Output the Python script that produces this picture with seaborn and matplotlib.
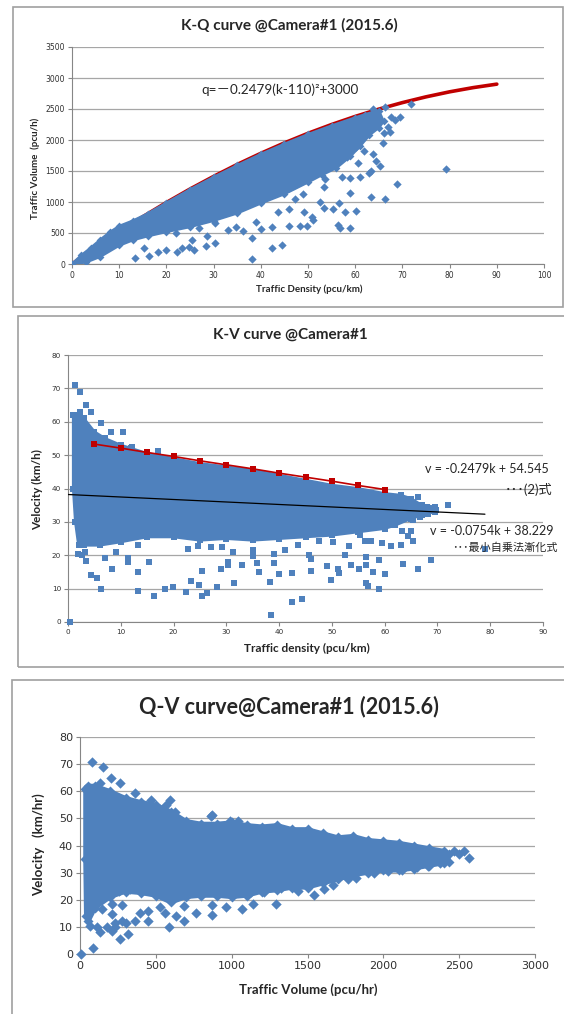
import matplotlib
matplotlib.use('Agg')
import matplotlib.pyplot as plt
import seaborn as sns
from matplotlib.patches import Rectangle

# ---------------- K-Q panel ----------------
# red fitted curve
kq_curve_k = [0, 5, 10, 15, 20, 25, 30, 35, 40, 45, 50, 55, 60, 65, 70, 75, 80, 85, 90]
kq_curve_q = [0, 267, 521, 763, 992, 1209, 1413, 1606, 1785, 1953, 2108, 2250, 2380,
              2498, 2603, 2696, 2777, 2845, 2901]
# outline of the dense point cloud (upper edge left->right, then lower edge right->left)
kq_cloud_k = [0, 2, 4, 6, 8, 10, 13, 16, 20, 25, 30, 35, 40, 45, 50, 55, 60, 62, 64, 65,
              66, 65, 63, 61, 59, 56, 53, 50, 45, 40, 35, 30, 25, 20, 16, 13, 10, 6, 3]
kq_cloud_q = [0, 140, 260, 390, 510, 610, 700, 810, 985, 1200, 1400, 1590, 1770, 1935, 2090,
              2230, 2360, 2410, 2455, 2470,
              2300, 2200, 2080, 1900, 1740, 1550, 1440, 1320, 1130, 980, 820, 700, 600, 520,
              450, 390, 300, 120, 30]
# scattered points outside the cloud
kq_out_k = [71.9, 79.2, 68.8, 66.3, 63.3, 58.9, 56.6, 60.1, 57.8, 58.8, 56.4, 56.8, 55.2, 53.4,
            52.5, 51.1, 50.8, 49.8, 48.4, 49.2, 45.9, 45.9, 43.7, 42.3, 40.0, 38.1, 39.0, 42.4,
            44.4, 38.2, 36.2, 34.8, 33.0, 30.2, 28.5, 28.4, 25.5, 25.8, 24.7, 23.2, 22.3, 19.9,
            18.2, 16.3, 13.3, 15.3, 22.1, 26.9, 30.4, 47.3, 49.0, 53.4, 53.7, 57.3, 59.0, 61.0,
            62.9, 65.3, 63.3, 64.4, 61.8, 63.7, 65.8, 66.0, 66.9, 67.6, 69.5, 68.4, 66.4, 63.8,
            67.3, 60.2, 58.3, 60.6]
kq_out_q = [2575, 1532, 1285, 1048, 1086, 1140, 978, 860, 839, 586, 629, 586, 882, 909,
            1000, 710, 763, 613, 608, 833, 882, 613, 839, 602, 559, 425, 672, 253,
            301, 86, 538, 597, 548, 344, 452, 296, 387, 226, 280, 263, 194, 226,
            188, 129, 102, 253, 495, 575, 661, 1043, 1134, 1247, 1376, 1408, 1387, 1408,
            1462, 1586, 1505, 1667, 1823, 1769, 1946, 2108, 2215, 2376, 2371, 2323, 2527, 2495,
            2134, 1892, 1731, 1624]

# ---------------- K-V panel ----------------
kv_cloud_k = [1, 2, 3, 5, 7, 10, 12, 15, 20, 25, 30, 35, 40, 45, 50, 55, 60, 63, 65, 67, 69.5,
              69.5, 67, 65, 62, 60, 55, 50, 45, 40, 35, 30, 25, 20, 15, 10, 6, 3, 2, 1.4, 1]
kv_cloud_v = [62, 62, 61, 57, 55, 53, 52, 50.5, 49, 47.5, 46.5, 45.5, 44, 42.5, 41, 40, 38.5,
              38, 37, 35, 34.5,
              33, 32, 31, 29, 28, 27, 26, 25.5, 25, 24.5, 25, 24.5, 25.5, 25.5, 24, 23, 23, 23,
              30, 40]
kv_out_k = [0.3, 1.3, 2.3, 3.4, 4.4, 2.3, 6.3, 8.2, 10.5, 17.1, 12.2, 72.0, 66.3, 68.0, 69.7,
            68.3, 66.7, 65.4, 61.8, 64.9, 63.3, 64.4, 65.4, 61.2, 63.1, 79.0, 68.8, 66.4, 63.4,
            60.0, 59.0, 59.0, 57.8, 56.9, 56.4, 56.5, 56.5, 55.2, 53.7, 52.4, 51.3, 51.2, 49.8,
            49.1, 46.0, 46.0, 45.6, 44.4, 42.4, 42.4, 40.0, 39.0, 38.2, 38.4, 36.2, 35.8, 35.0,
            33.0, 31.4, 30.4, 30.3, 28.9, 28.3, 26.3, 25.4, 25.4, 24.9, 23.3, 22.4, 19.9, 18.3,
            16.3, 15.4, 13.2, 13.2, 11.3, 11.3, 8.4, 6.3, 5.4, 4.4, 3.4, 7.1, 9.1, 13.2, 22.7,
            24.6, 27.1, 29.2, 31.2, 35.0, 39.0, 41.1, 43.5, 47.6, 50.3, 53.3, 56.3, 57.4, 59.5,
            55.4, 1.8, 2.6, 3.2]
kv_out_v = [0, 70.9, 69, 65, 63, 63, 59.5, 56.9, 57, 51.2, 52.4, 35, 37.4, 34.4, 33.7,
            32.5, 31.5, 30.7, 29.2, 27.4, 27.4, 25.7, 24.4, 22.7, 23.2, 21.9, 18.5, 16, 17.3,
            14.4, 18.7, 10, 15, 10.7, 11.6, 17.2, 19.4, 16, 17, 20.2, 14.7, 16, 12.7,
            16.9, 15.4, 18.9, 20, 7, 6, 14.6, 14.4, 17.7, 11.9, 2, 15, 17.7, 19.7,
            17, 11.6, 18, 17, 16, 10.6, 8.8, 15.2, 7.8, 11, 12.2, 8.9, 10.5, 9.9,
            7.8, 17.9, 15, 9.3, 19.2, 18, 16, 10, 13.2, 14.2, 18.2, 19.2, 21, 23.2, 22,
            22.9, 22.5, 22.4, 21, 21.7, 20.4, 21.7, 23.2, 24.2, 23.9, 22.7, 24.4, 24.2, 23.7,
            26, 20.5, 20, 21]
# red upper-limit points and black least-squares line
kv_red_k = [5, 10, 15, 20, 25, 30, 35, 40, 45, 50, 55, 60]
kv_red_v = [53.3, 52.1, 50.8, 49.6, 48.3, 47.1, 45.9, 44.6, 43.4, 42.2, 40.9, 39.7]
kv_fit_k = [0, 79]
kv_fit_v = [38.2, 32.3]

# ---------------- Q-V panel ----------------
qv_cloud_q = [35, 50, 100, 200, 300, 400, 500, 600, 700, 800, 900, 1000, 1100, 1200, 1300, 1400,
              1500, 1600, 1700, 1800, 1900, 2000, 2100, 2200, 2300, 2400, 2430,
              2430, 2400, 2300, 2200, 2100, 2000, 1900, 1800, 1700, 1600, 1500, 1400, 1300,
              1200, 1100, 1000, 900, 800, 700, 600, 500, 400, 300, 200, 100, 55, 40, 35]
qv_cloud_v = [61, 62, 62, 60, 57.5, 56, 55, 52.5, 49, 48, 48, 48.5, 47.5, 47, 47.5, 46,
              46, 44.5, 43, 43.5, 42, 41.5, 41, 40, 39, 38, 37,
              34, 33.5, 32.5, 31.5, 30.8, 30.8, 30, 29, 27.5, 26, 24.5, 24.5, 23.5,
              23, 21.5, 21, 21.5, 21.5, 21, 19, 21.5, 22.5, 23, 21, 17, 12, 14, 35]
qv_out_q = [7, 85, 81, 149, 202, 261, 130, 363, 467, 595, 626, 564, 873, 991, 1043, 2466,
            2533, 2568, 2497, 2371, 2295, 2224, 2122, 2030, 1940, 1821, 1767, 1667, 1608,
            1541, 1435, 1295, 1138, 1069, 963, 873, 873, 766, 683, 688, 636, 588, 560, 526,
            450, 450, 398, 363, 280, 304, 315, 261, 232, 209, 180, 133, 109, 66, 209, 209,
            142, 280, 228, 470, 410, 256, 327, 896, 1126, 1216, 1323, 861]
qv_out_v = [0, 2.1, 70.7, 68.9, 65, 62.9, 63.1, 59.4, 56.7, 56.7, 52.5, 55.1, 51.2, 49, 49, 38,
            38, 35.3, 36.8, 33.7, 32.5, 32.1, 31, 30.6, 29.8, 28.2, 27.6, 25.5, 24.1,
            21.8, 23.3, 18.6, 18.6, 16.5, 17.2, 14.3, 18, 15, 12.3, 17.8, 14.1, 9.8, 15, 17.2,
            12, 15.9, 15.1, 12, 18.1, 11.3, 7.4, 5.5, 11.6, 8.6, 9.8, 8, 9.8, 10.2, 18.4, 14.7,
            16.5, 12.3, 10, 24.5, 24.5, 23.3, 23.9, 23.5, 22.7, 22.7, 24.5, 50.9]

BLUE = '#4F81BD'
RED = '#C00000'
GRID = '#A6A6A6'
W, H = 564, 1014

sns.set_theme(style='white')
plt.rcParams['font.family'] = ['Lato', 'Noto Sans CJK JP', 'DejaVu Sans']

fig = plt.figure(figsize=(W / 100, H / 100), dpi=100)


def rect(l, t, r, b):
    return [l / W, 1 - b / H, (r - l) / W, (b - t) / H]


def ftext(x, y, s, **kw):
    fig.text(x / W, 1 - y / H, s, **kw)


def frame(l, t, r, b):
    fig.add_artist(Rectangle((l / W, 1 - b / H), (r - l) / W, (b - t) / H,
                             transform=fig.transFigure, fill=False, ec='#A0A0A0', lw=1.2))


def style(ax, size):
    sns.despine(ax=ax)
    for s in ['left', 'bottom']:
        ax.spines[s].set_color('#868686')
        ax.spines[s].set_linewidth(0.8)
    ax.grid(axis='y', color=GRID, lw=0.9)
    ax.grid(axis='x', visible=False)
    ax.set_axisbelow(True)
    ax.tick_params(direction='out', length=3, width=0.8, color='#868686', pad=2,
                   labelsize=size, labelcolor='#303030', left=True, bottom=True)
    for lab in ax.get_xticklabels() + ax.get_yticklabels():
        lab.set_family('DejaVu Sans')
    ax.set_xlabel('')
    ax.set_ylabel('')


# ---------- panel 1: K-Q ----------
frame(13, 7, 563, 307)
ax1 = fig.add_axes(rect(72, 47, 544, 264))
sns.lineplot(x=kq_curve_k, y=kq_curve_q, color=RED, lw=2.6, ax=ax1, zorder=2)
ax1.fill(kq_cloud_k, kq_cloud_q, color=BLUE, lw=2, zorder=3)
sns.scatterplot(x=kq_cloud_k, y=kq_cloud_q, marker='D', s=16, color=BLUE, linewidth=0,
                ax=ax1, zorder=3)
sns.scatterplot(x=kq_out_k, y=kq_out_q, marker='D', s=18, color=BLUE, linewidth=0,
                ax=ax1, zorder=4, clip_on=False)
ax1.set_xlim(0, 100)
ax1.set_ylim(0, 3500)
ax1.set_xticks(range(0, 101, 10))
ax1.set_yticks(range(0, 3501, 500))
style(ax1, 5.5)
ftext(289, 25, 'K-Q curve @Camera#1 (2015.6)', ha='center', va='center',
      fontsize=11, fontweight='bold')
ftext(201, 90, 'q=－0.2479(k-110)²+3000', ha='left', va='center', fontsize=9.7)
ftext(309, 289, 'Traffic Density (pcu/km)', ha='center', va='center',
      fontsize=7, fontweight='bold')
ftext(35, 168, 'Traffic Volume  (pcu/h)', ha='center', va='center', rotation=90,
      fontsize=7, fontweight='bold')

# ---------- panel 2: K-V ----------
frame(18, 316, 570, 667)
ax2 = fig.add_axes(rect(68, 355, 543, 622))
ax2.fill(kv_cloud_k, kv_cloud_v, color=BLUE, lw=2, zorder=2)
sns.scatterplot(x=kv_cloud_k, y=kv_cloud_v, marker='s', s=14, color=BLUE, linewidth=0,
                ax=ax2, zorder=2)
sns.scatterplot(x=kv_out_k, y=kv_out_v, marker='s', s=14, color=BLUE, linewidth=0,
                ax=ax2, zorder=3, clip_on=False)
sns.lineplot(x=kv_fit_k, y=kv_fit_v, color='black', lw=0.9, ax=ax2, zorder=4)
sns.lineplot(x=kv_red_k, y=kv_red_v, color=RED, lw=1.2, ax=ax2, zorder=5)
sns.scatterplot(x=kv_red_k, y=kv_red_v, marker='s', s=20, color=RED, linewidth=0,
                ax=ax2, zorder=6)
ax2.set_xlim(0, 90)
ax2.set_ylim(0, 80)
ax2.set_xticks(range(0, 91, 10))
ax2.set_yticks(range(0, 81, 10))
style(ax2, 5.2)
ftext(290, 335, 'K-V curve @Camera#1', ha='center', va='center',
      fontsize=11, fontweight='bold')
ftext(307, 648, 'Traffic density (pcu/km)', ha='center', va='center',
      fontsize=8.5, fontweight='bold')
ftext(38, 490, 'Velocity (km/h)', ha='center', va='center', rotation=90,
      fontsize=8.5, fontweight='bold')
ftext(549, 469, 'v = -0.2479k + 54.545', ha='right', va='center', fontsize=9, color='#262626')
ftext(553, 489, '･･･(2)式', ha='right', va='center', fontsize=9.5, color='#262626')
ftext(553, 531, 'v = -0.0754k + 38.229', ha='right', va='center', fontsize=9, color='#262626')
ftext(558, 547, '･･･最小自乗法漸化式', ha='right', va='center', fontsize=8, color='#262626')

# ---------- panel 3: Q-V ----------
frame(12, 680, 570, 1020)
ax3 = fig.add_axes(rect(80, 737, 535, 954))
ax3.fill(qv_cloud_q, qv_cloud_v, color=BLUE, lw=3, zorder=2)
sns.scatterplot(x=qv_cloud_q, y=qv_cloud_v, marker='D', s=26, color=BLUE, linewidth=0,
                ax=ax3, zorder=2)
sns.scatterplot(x=qv_out_q, y=qv_out_v, marker='D', s=28, color=BLUE, linewidth=0,
                ax=ax3, zorder=3, clip_on=False)
ax3.set_xlim(0, 3000)
ax3.set_ylim(0, 80)
ax3.set_xticks(range(0, 3001, 500))
ax3.set_yticks(range(0, 81, 10))
style(ax3, 8)
ftext(289, 707, 'Q-V curve@Camera#1 (2015.6)', ha='center', va='center',
      fontsize=15.5, fontweight='bold')
ftext(308, 990, 'Traffic Volume (pcu/hr)', ha='center', va='center',
      fontsize=9.5, fontweight='bold')
ftext(39, 845, 'Velocity   (km/hr)', ha='center', va='center', rotation=90,
      fontsize=9.5, fontweight='bold')

fig.savefig('out.png', dpi=100)
